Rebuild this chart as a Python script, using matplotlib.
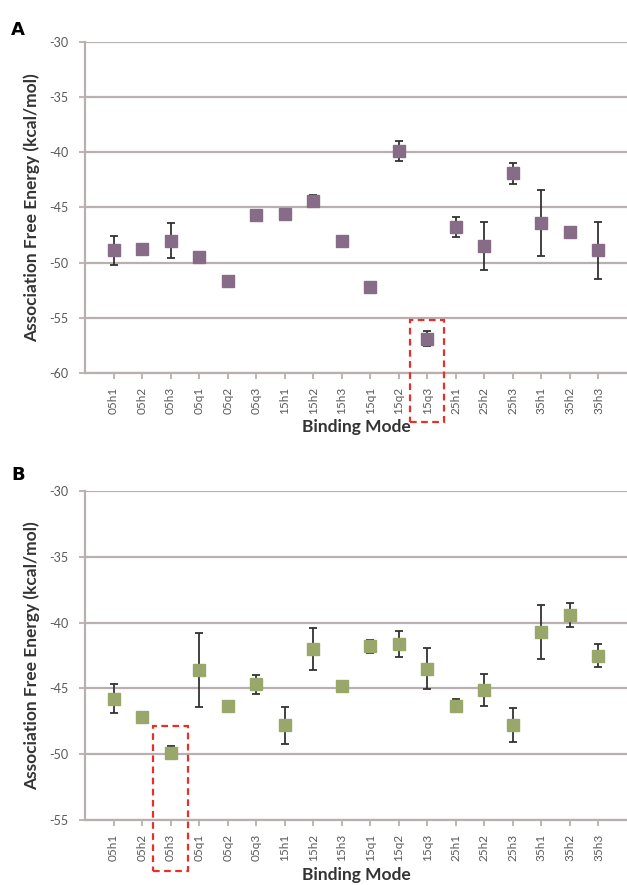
import numpy as np
import matplotlib
matplotlib.use('Agg')
import matplotlib.pyplot as plt
from matplotlib.patches import Rectangle
from matplotlib.transforms import blended_transform_factory

plt.rcParams['axes.unicode_minus'] = False

# binding modes (same for both panels)
modes = ['05h1', '05h2', '05h3', '05q1', '05q2', '05q3',
         '15h1', '15h2', '15h3', '15q1', '15q2', '15q3',
         '25h1', '25h2', '25h3', '35h1', '35h2', '35h3']

# panel A
energy_a = [-48.9, -48.8, -48.0, -49.5, -51.7, -45.7,
            -45.6, -44.4, -48.0, -52.2, -39.9, -56.9,
            -46.8, -48.5, -41.9, -46.4, -47.2, -48.9]
err_a = [1.35, 0.0, 1.6, 0.0, 0.5, 0.0,
         0.0, 0.5, 0.0, 0.0, 0.9, 0.7,
         0.9, 2.2, 0.95, 3.0, 0.4, 2.6]

# panel B
energy_b = [-45.8, -47.2, -49.9, -43.6, -46.3, -44.7,
            -47.8, -42.0, -44.8, -41.8, -41.6, -43.5,
            -46.3, -45.1, -47.8, -40.7, -39.4, -42.5]
err_b = [1.1, 0.0, 0.5, 2.8, 0.0, 0.7,
         1.4, 1.6, 0.0, 0.5, 1.0, 1.55,
         0.5, 1.2, 1.3, 2.05, 0.9, 0.9]

font = 'Lato'
grid_col = '#b9afaf'
text_col = '#595959'

fig = plt.figure(figsize=(6.27, 8.85), dpi=100)
ax_a = fig.add_axes([0.1356, 0.5789, 0.8644, 0.3733])
ax_b = fig.add_axes([0.1356, 0.0734, 0.8644, 0.3718])


def draw_panel(ax, vals, errs, color, ylim, letter, letter_y, hl, hl_box):
    x = np.arange(len(modes))
    ax.errorbar(x, vals, yerr=errs, fmt='none', ecolor='#333333',
                elinewidth=1.3, capsize=3, capthick=1.3, zorder=3)
    ax.plot(x, vals, 's', color=color, markersize=8, zorder=4)
    ax.set_xlim(-1, len(modes))
    ax.set_ylim(*ylim)
    ax.set_yticks(np.arange(ylim[0], ylim[1] + 1, 5))
    ax.grid(axis='y', color=grid_col, linewidth=1.6, zorder=0)
    ax.set_axisbelow(True)
    for s in ['top', 'right']:
        ax.spines[s].set_visible(False)
    for s in ['left', 'bottom']:
        ax.spines[s].set_color(grid_col)
        ax.spines[s].set_linewidth(1.6)
    ax.set_xticks(x)
    ax.set_xticklabels(modes, rotation=90, fontfamily=font, fontsize=8.5,
                       color=text_col)
    ax.tick_params(axis='both', color=grid_col, length=4, width=1.3)
    ax.tick_params(axis='y', labelsize=9, labelcolor=text_col, pad=8)
    ax.tick_params(axis='x', pad=6)
    for t in ax.get_yticklabels():
        t.set_fontfamily(font)
    ax.set_ylabel('Association Free Energy (kcal/mol)', fontfamily=font,
                  fontweight='bold', fontsize=12.5, color='#333333', labelpad=6.5)
    ax.set_xlabel('Binding Mode', fontfamily=font, fontweight='bold',
                  fontsize=12.5, color='#333333', labelpad=4)
    fig.text(0.018, letter_y, letter, fontfamily='DejaVu Sans',
             fontweight='bold', fontsize=13)
    # red dashed box around the highlighted mode
    tr = blended_transform_factory(ax.transData, fig.transFigure)
    i = modes.index(hl)
    ax.add_patch(Rectangle((i - 0.6, hl_box[0]), 1.2, hl_box[1] - hl_box[0],
                           transform=tr, fill=False, edgecolor='#e8302a',
                           linestyle=(0, (3, 2)), linewidth=1.6,
                           clip_on=False, zorder=5))


draw_panel(ax_a, energy_a, err_a, '#876c88', (-60, -30), 'A', 0.96,
           '15q3', (0.523, 0.638))
draw_panel(ax_b, energy_b, err_b, '#9aa76b', (-55, -30), 'B', 0.458,
           '05h3', (0.016, 0.180))

fig.savefig('out.png', dpi=100)
